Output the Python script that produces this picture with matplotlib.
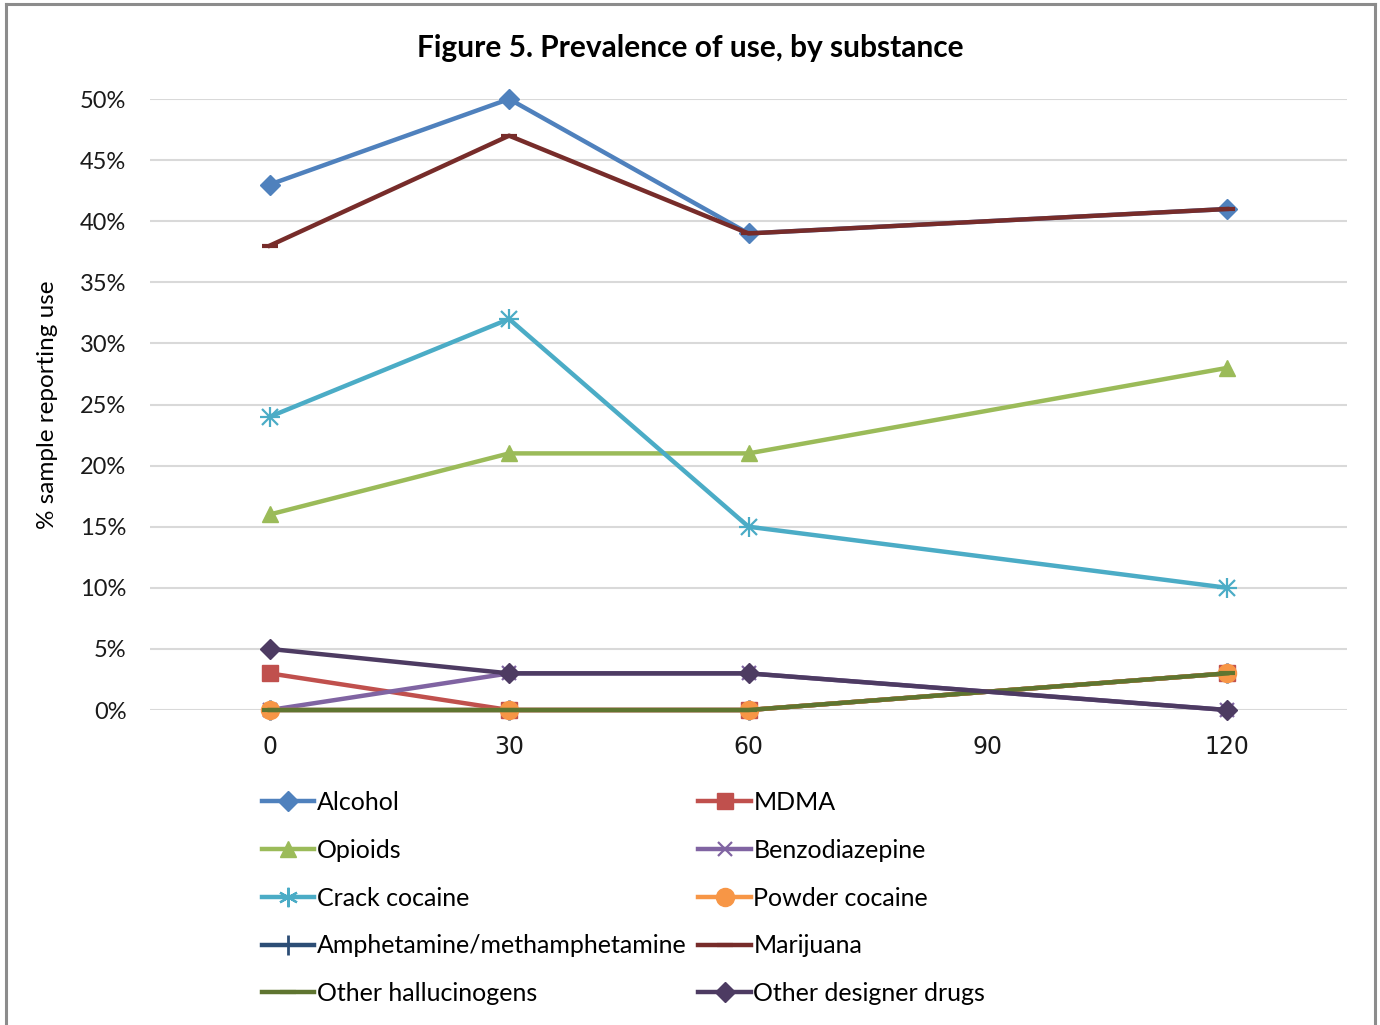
import matplotlib
matplotlib.use("Agg")

import matplotlib.pyplot as plt
from matplotlib.lines import Line2D
from matplotlib.ticker import FuncFormatter, MultipleLocator

plt.rcParams['font.family'] = ['Lato', 'DejaVu Sans']

# --- Data (% of sample reporting use) ---
days = [0, 30, 60, 120]
alcohol = [43, 50, 39, 41]
mdma = [3, 0, 0, 3]
opioids = [16, 21, 21, 28]
benzo = [0, 3, 3, 0]
crack = [24, 32, 15, 10]
powder = [0, 0, 0, 3]
amphet = [0, 0, 0, 3]
marijuana = [38, 47, 39, 41]
hallucinogens = [0, 0, 0, 3]
designer = [5, 3, 3, 0]

x_ticks = [0, 30, 60, 90, 120]

# (label, values, colour, marker, marker size, marker edge width, zorder)
series = [
    ("Alcohol", alcohol, "#4f81bd", "D", 10, 1, 3),
    ("MDMA", mdma, "#c0504d", "s", 11, 1, 3),
    ("Opioids", opioids, "#9bbb59", "^", 12, 1, 3),
    ("Benzodiazepine", benzo, "#8064a2", "x", 10, 1.6, 3),
    ("Crack cocaine", crack, "#4bacc6", "*", 1, 1, 3),
    ("Powder cocaine", powder, "#f79646", "o", 13, 1, 3),
    ("Amphetamine/methamphetamine", amphet, "#2c4d75", "|", 14, 2, 2.5),
    ("Marijuana", marijuana, "#772c2a", "_", 12, 3, 3),
    ("Other hallucinogens", hallucinogens, "#5f7530", "_", 12, 3, 3),
    ("Other designer drugs", designer, "#4d3b62", "D", 10, 1, 3),
]

fig = plt.figure(figsize=(13.8, 10.25), dpi=100)
ax = fig.add_axes([0.1087, 0.3073, 0.8674, 0.5961])

handles = []
for label, vals, col, mk, ms, mew, z in series:
    if label == "Crack cocaine":
        # asterisk marker: a plus and an x on top of each other
        ax.plot(days, vals, color=col, lw=3.2, zorder=z, clip_on=False)
        ax.plot(days, vals, ls="none", marker="+", ms=15, mew=1.6, color=col,
                zorder=z, clip_on=False)
        ax.plot(days, vals, ls="none", marker="x", ms=11, mew=1.6, color=col,
                zorder=z, clip_on=False)
        h = Line2D([], [], color=col, lw=3.2, marker=(6, 2, 0), ms=14, mew=1.6)
    else:
        ax.plot(days, vals, color=col, lw=3.2, marker=mk, ms=ms, mew=mew,
                mec=col, mfc=col, zorder=z, clip_on=False)
        h = Line2D([], [], color=col, lw=3.2, marker=mk, ms=ms, mew=mew, mec=col, mfc=col)
    handles.append((h, label))

ax.set_xlim(-15, 135)
ax.set_ylim(0, 50)
ax.set_xticks(x_ticks)
ax.yaxis.set_major_locator(MultipleLocator(5))
ax.yaxis.set_major_formatter(FuncFormatter(lambda v, p: f"{v:.0f}%"))
ax.grid(axis="y", color="#d9d9d9", lw=1.5)
ax.set_axisbelow(True)
for s in ax.spines.values():
    s.set_visible(False)
ax.tick_params(axis="both", length=0, labelsize=17, colors="#1a1a1a")
ax.tick_params(axis="x", pad=18)
ax.tick_params(axis="y", pad=17)
for t in ax.get_xticklabels():
    t.set_fontfamily(['DejaVu Sans'])
    t.set_fontsize(17)
ax.set_ylabel("% sample reporting use", fontsize=17.5, labelpad=16)

fig.text(0.5, 0.953, "Figure 5. Prevalence of use, by substance", ha="center",
         va="center", fontsize=21.5, fontweight="bold")

# legend is filled row by row: reorder so columns come out as pairs
order = list(range(0, len(handles), 2)) + list(range(1, len(handles), 2))
leg = fig.legend([handles[i][0] for i in order], [handles[i][1] for i in order],
                 loc="upper left", bbox_to_anchor=(0.1824, 0.238), ncol=2,
                 frameon=False, fontsize=18, handlelength=2.1, handletextpad=0.1,
                 labelspacing=0.99, columnspacing=0.48, borderaxespad=0)

# chart frame
for xf in (0.0045, 0.9965):
    fig.add_artist(Line2D([xf, xf], [0, 0.996], color="#8c8c8c", lw=2.2))
fig.add_artist(Line2D([0.0045, 0.9965], [0.996, 0.996], color="#8c8c8c", lw=2.2))

fig.savefig("out.png", dpi=100)
